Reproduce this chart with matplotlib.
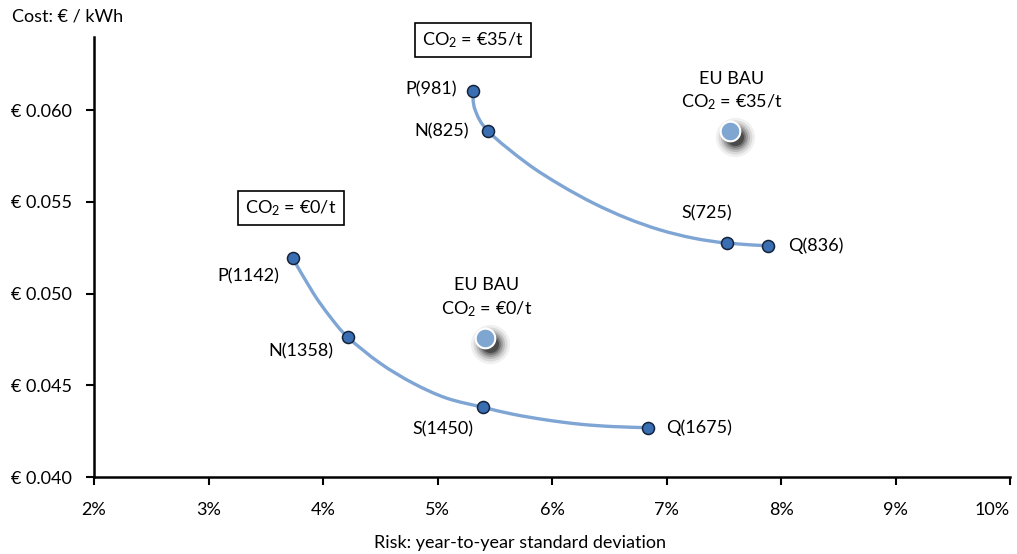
import numpy as np
import matplotlib
matplotlib.use('Agg')
import matplotlib.pyplot as plt
import matplotlib.transforms as mtransforms
from matplotlib.path import Path
from matplotlib.patches import PathPatch
from matplotlib.ticker import FuncFormatter

plt.rcParams['font.family'] = ['Lato', 'DejaVu Sans']
plt.rcParams['mathtext.fontset'] = 'custom'
plt.rcParams['mathtext.rm'] = 'Lato'
plt.rcParams['mathtext.it'] = 'Lato'

# 标记点 (风险 %, 成本 €/kWh)
labels_35 = ['P(981)', 'N(825)', 'S(725)', 'Q(836)']
risk_35 = [5.307, 5.444, 7.526, 7.889]
cost_35 = [0.06107, 0.05885, 0.05276, 0.05261]

labels_0 = ['P(1142)', 'N(1358)', 'S(1450)', 'Q(1675)']
risk_0 = [3.735, 4.216, 5.400, 6.841]
cost_0 = [0.05194, 0.04763, 0.04380, 0.04269]

# 有效前沿曲线
frontier_35_x = [5.307, 5.328, 5.444, 5.779, 6.070, 6.361, 6.652, 6.943, 7.234, 7.526, 7.889]
frontier_35_y = [0.06107, 0.06003, 0.05885, 0.05712, 0.05594, 0.05494, 0.05412, 0.05348, 0.05303, 0.05276, 0.05261]
frontier_0_x = [3.735, 3.915, 4.061, 4.216, 4.498, 4.789, 5.080, 5.400, 5.662, 5.954, 6.245, 6.535, 6.841]
frontier_0_y = [0.05194, 0.05003, 0.04875, 0.04763, 0.04621, 0.04511, 0.04430, 0.04380, 0.04342, 0.04311, 0.04288, 0.04275, 0.04269]

# EU BAU
bau_risk = [7.555, 5.415]
bau_cost = [0.05885, 0.04760]
bau_labels = ['EU BAU\nCO$_2$ = €35/t', 'EU BAU\nCO$_2$ = €0/t']

xticks = [2, 3, 4, 5, 6, 7, 8, 9, 10]
yticks = [0.040, 0.045, 0.050, 0.055, 0.060]

LINE_COLOR = '#7ea5d4'
MARKER_COLOR = '#3a6eb3'
BAU_COLOR = '#7fa5d1'


def smooth_path(xs, ys):
    """Catmull-Rom -> 三次贝塞尔"""
    pts = np.column_stack([xs, ys])
    n = len(pts)
    verts = [pts[0]]
    codes = [Path.MOVETO]
    for i in range(n - 1):
        p0 = pts[max(i - 1, 0)]
        p1 = pts[i]
        p2 = pts[i + 1]
        p3 = pts[min(i + 2, n - 1)]
        c1 = p1 + (p2 - p0) / 6
        c2 = p2 - (p3 - p1) / 6
        verts += [c1, c2, p2]
        codes += [Path.CURVE4] * 3
    return Path(verts, codes)


fig = plt.figure(figsize=(10.17, 5.54), dpi=100)
ax = fig.add_axes([94 / 1017, 1 - 477 / 554, (1010 - 94) / 1017, (477 - 37) / 554])

ax.set_xlim(2, 10)
ax.set_ylim(0.040, 0.0640)

for fx, fy in [(frontier_35_x, frontier_35_y), (frontier_0_x, frontier_0_y)]:
    ax.add_patch(PathPatch(smooth_path(fx, fy), facecolor='none', edgecolor=LINE_COLOR,
                           linewidth=2.4, zorder=2, capstyle='round'))

ax.scatter(risk_35 + risk_0, cost_35 + cost_0, s=75, color=MARKER_COLOR,
           edgecolors='#15233a', linewidths=1.1, zorder=4)

# 阴影
shadow = mtransforms.offset_copy(ax.transData, fig=fig, x=5, y=-6, units='dots')
for size, alpha in [(800, 0.06), (600, 0.09), (440, 0.13), (320, 0.18), (220, 0.25), (150, 0.35)]:
    ax.scatter(bau_risk, bau_cost, s=size, color='black', alpha=alpha,
               linewidths=0, transform=shadow, zorder=3)
ax.scatter(bau_risk, bau_cost, s=200, color=BAU_COLOR, edgecolors='white',
           linewidths=1.5, zorder=5)

fs = 13
# 标签偏移 (像素)
offsets_35 = [(-16, 1, 'right'), (-19, 0, 'right'), (-20, 30, 'center'), (20, 0, 'left')]
offsets_0 = [(-13, -18, 'right'), (-14, -14, 'right'), (-40, -22, 'center'), (18, 0, 'left')]
for lab, x, y, (dx, dy, ha) in zip(labels_35 + labels_0, risk_35 + risk_0, cost_35 + cost_0,
                                   offsets_35 + offsets_0):
    ax.annotate(lab, (x, y), xytext=(dx, dy), textcoords='offset pixels',
                ha=ha, va='center', fontsize=fs, color='black')

for lab, x, y in zip(bau_labels, bau_risk, bau_cost):
    ax.annotate(lab, (x, y), xytext=(2, 40), textcoords='offset pixels',
                ha='center', va='center', fontsize=fs, linespacing=1.4)

box = dict(boxstyle='square,pad=0.4', facecolor='white', edgecolor='black', linewidth=1.2)
ax.text(5.31, 0.06385, 'CO$_2$ = €35/t', ha='center', va='center', fontsize=fs, bbox=box)
ax.text(3.72, 0.05468, 'CO$_2$ = €0/t', ha='center', va='center', fontsize=fs, bbox=box)

ax.spines['top'].set_visible(False)
ax.spines['right'].set_visible(False)
ax.spines['left'].set_linewidth(1.8)
ax.spines['bottom'].set_linewidth(1.8)
ax.set_xticks(xticks)
ax.set_yticks(yticks)
ax.xaxis.set_major_formatter(FuncFormatter(lambda v, p: f'{v:.0f}%'))
ax.yaxis.set_major_formatter(FuncFormatter(lambda v, p: f'€ {v:.3f}'))
ax.tick_params(axis='both', direction='out', length=6, width=1.5, labelsize=fs, colors='black')
ax.tick_params(axis='x', pad=12)
ax.tick_params(axis='y', pad=10)
ax.get_xticklabels()[-1].set_horizontalalignment('right')

fig.text(12 / 1017, 1 - 16 / 554, 'Cost: € / kWh', ha='left', va='center', fontsize=fs)
fig.text(520 / 1017, 1 - 543 / 554, 'Risk: year-to-year standard deviation',
         ha='center', va='center', fontsize=fs)

plt.savefig('out.png', dpi=100)
